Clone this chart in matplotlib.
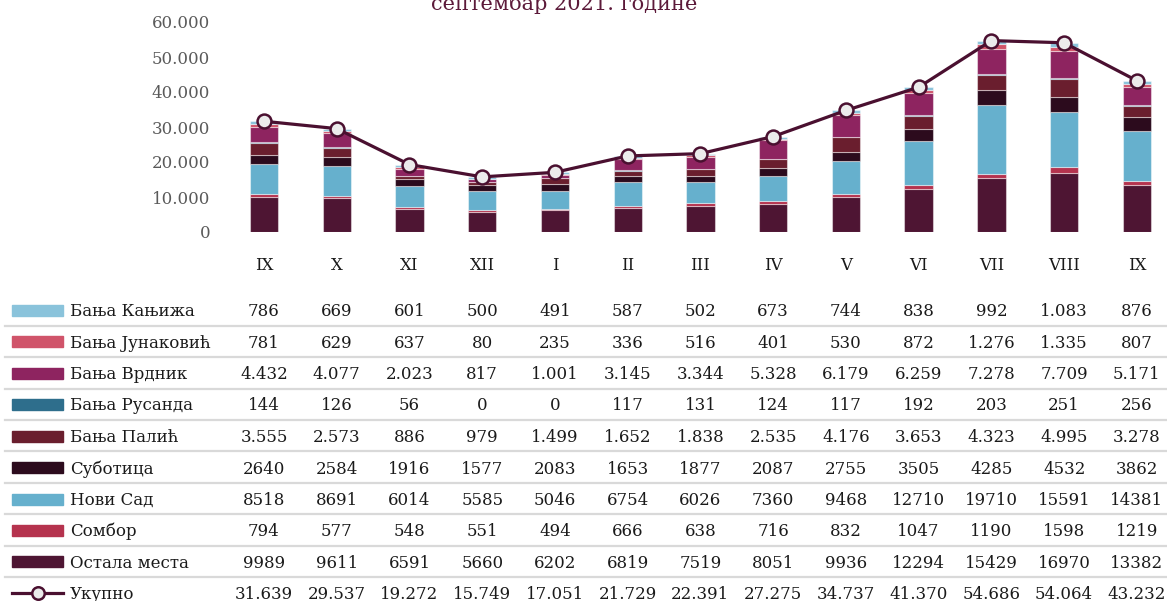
import matplotlib
matplotlib.use('Agg')
import numpy as np
import matplotlib.pyplot as plt
from matplotlib.lines import Line2D
from matplotlib.patches import Rectangle
from matplotlib.transforms import blended_transform_factory
from matplotlib.ticker import FuncFormatter

plt.rcParams['font.family'] = ['DejaVu Serif']

# Meseci (IX 2020 - IX 2021)
meseci = ['IX', 'X', 'XI', 'XII', 'I', 'II', 'III', 'IV', 'V', 'VI', 'VII', 'VIII', 'IX']

# Serije, redosled kao u tabeli (odozgo nadole)
kanjiza = [786, 669, 601, 500, 491, 587, 502, 673, 744, 838, 992, 1083, 876]
junakovic = [781, 629, 637, 80, 235, 336, 516, 401, 530, 872, 1276, 1335, 807]
vrdnik = [4432, 4077, 2023, 817, 1001, 3145, 3344, 5328, 6179, 6259, 7278, 7709, 5171]
rusanda = [144, 126, 56, 0, 0, 117, 131, 124, 117, 192, 203, 251, 256]
palic = [3555, 2573, 886, 979, 1499, 1652, 1838, 2535, 4176, 3653, 4323, 4995, 3278]
subotica = [2640, 2584, 1916, 1577, 2083, 1653, 1877, 2087, 2755, 3505, 4285, 4532, 3862]
novi_sad = [8518, 8691, 6014, 5585, 5046, 6754, 6026, 7360, 9468, 12710, 19710, 15591, 14381]
sombor = [794, 577, 548, 551, 494, 666, 638, 716, 832, 1047, 1190, 1598, 1219]
ostala = [9989, 9611, 6591, 5660, 6202, 6819, 7519, 8051, 9936, 12294, 15429, 16970, 13382]
ukupno = [31639, 29537, 19272, 15749, 17051, 21729, 22391, 27275, 34737, 41370, 54686, 54064, 43232]

nazivi = ['Бања Кањижа', 'Бања Јунаковић', 'Бања Врдник', 'Бања Русанда', 'Бања Палић',
          'Суботица', 'Нови Сад', 'Сомбор', 'Остала места']
serije = [kanjiza, junakovic, vrdnik, rusanda, palic, subotica, novi_sad, sombor, ostala]
tacke = [True, True, True, True, True, False, False, False, False]  # da li se koristi separator hiljada
boje = ['#8AC3DB', '#D0546A', '#8E2460', '#2E6E8C', '#6A1E2E', '#2C0B1D',
        '#66B0CD', '#B5334E', '#4E1533']
boja_linije = '#4A1030'

W, H = 1167, 601


def fy(px):
    return 1 - px / H


def fmt(v, dot=True):
    s = f"{v:,}"
    return s.replace(',', '.') if dot else s.replace(',', '')


fig = plt.figure(figsize=(W / 100, H / 100), dpi=100)
ax = fig.add_axes([227.6 / W, fy(232), (1166 - 227.6) / W, 210 / H])

x = np.arange(len(meseci))
bottom = np.zeros(len(meseci))
# slaganje odozdo: obrnuti redosled tabele
for vals, c in zip(serije[::-1], boje[::-1]):
    ax.bar(x, vals, 0.39, bottom=bottom, color=c, edgecolor=(1, 1, 1, 0.45), linewidth=0.8)
    bottom += np.array(vals)

ax.plot(x, ukupno, color=boja_linije, lw=2.3, marker='o', ms=10,
        markerfacecolor='#EBEBEB', markeredgecolor=boja_linije, markeredgewidth=1.8,
        clip_on=False, zorder=5)

ax.set_xlim(-0.5, 12.4)
ax.set_ylim(0, 60000)
ax.set_yticks(np.arange(0, 60001, 10000))
ax.yaxis.set_major_formatter(FuncFormatter(lambda v, p: fmt(int(v))))
ax.tick_params(axis='y', length=0, pad=12.5, labelsize=12, labelcolor='#5a5a5a')
ax.set_xticks([])
for s in ax.spines.values():
    s.set_visible(False)

# naslov (prvi red je van slike)
fig.text(564 / W, fy(10), 'септембар 2021. године', ha='center', va='baseline',
         fontsize=15, color='#5C1A3A')

tr = blended_transform_factory(ax.transData, fig.transFigure)

# oznake meseci
for i, m in enumerate(meseci):
    fig.text(i, fy(270), m, transform=tr, ha='center', va='baseline', fontsize=12, color='#1a1a1a')

# tabela
redovi_y = [310, 341.5, 373, 404.5, 436, 467.5, 499, 530, 561.5, 593]
linije_y = [325.5, 357, 388.5, 420, 451, 482.5, 514, 545.5, 577]
for yl in linije_y:
    fig.add_artist(Line2D([5 / W, 1], [fy(yl), fy(yl)], transform=fig.transFigure,
                          color='#D9D9D9', lw=1.6))

for r, (naziv, vals, c, dot) in enumerate(zip(nazivi, serije, boje, tacke)):
    yc = redovi_y[r]
    fig.add_artist(Rectangle((12 / W, fy(yc + 5.5)), 51 / W, 11 / H,
                             transform=fig.transFigure, color=c))
    fig.text(70 / W, fy(yc + 6), naziv, ha='left', va='baseline', fontsize=12, color='#1a1a1a')
    for i, v in enumerate(vals):
        fig.text(i, fy(yc + 6), fmt(v, dot), transform=tr, ha='center', va='baseline',
                 fontsize=12, color='#1a1a1a')

yc = redovi_y[-1]
fig.add_artist(Line2D([12 / W, 63 / W], [fy(yc), fy(yc)], transform=fig.transFigure,
                      color=boja_linije, lw=2.3))
fig.add_artist(Line2D([37.5 / W], [fy(yc)], transform=fig.transFigure, marker='o', ms=9,
                      markerfacecolor='#EBEBEB', markeredgecolor=boja_linije, markeredgewidth=1.8,
                      linestyle='none'))
fig.text(70 / W, fy(yc + 6), 'Укупно', ha='left', va='baseline', fontsize=12, color='#1a1a1a')
for i, v in enumerate(ukupno):
    fig.text(i, fy(yc + 6), fmt(v), transform=tr, ha='center', va='baseline',
             fontsize=12, color='#1a1a1a')

fig.savefig('out.png', dpi=100)
